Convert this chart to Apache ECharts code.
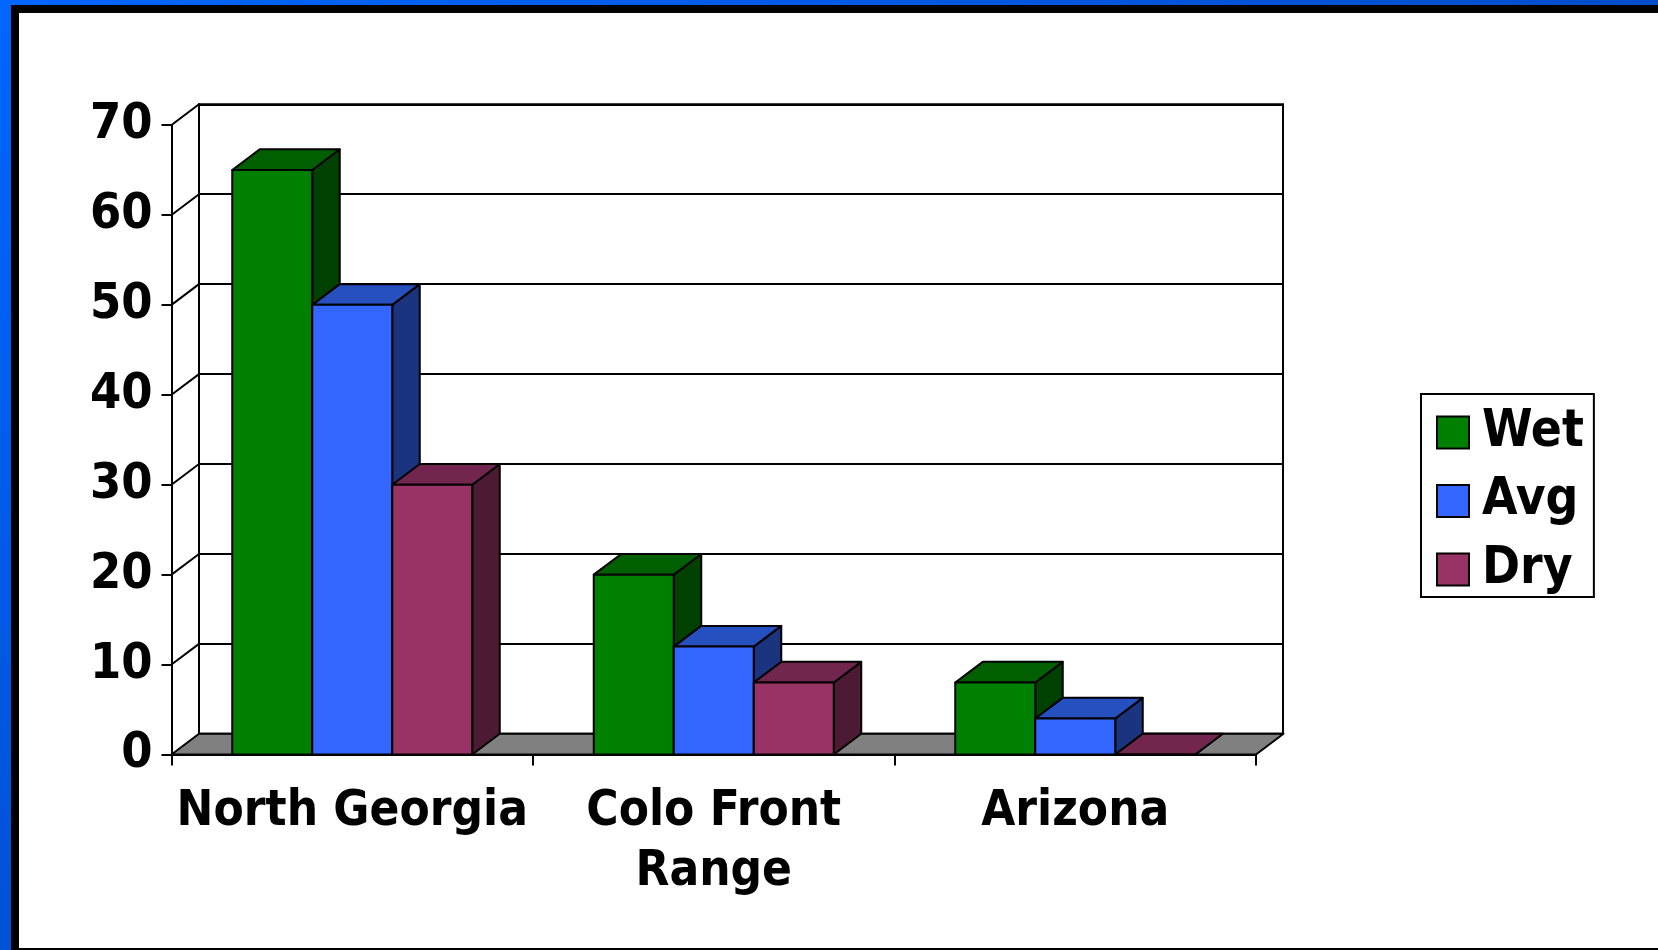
<!DOCTYPE html>
<html>
<head>
<meta charset="utf-8">
<script src="https://cdn.jsdelivr.net/npm/echarts@6/dist/echarts.min.js"></script>
<style>
  html, body { margin: 0; padding: 0; background: #fff; width: 1658px; height: 950px; overflow: hidden; }
  #chart { position: absolute; left: 0; top: 0; width: 1658px; height: 950px; }
  .b { position: absolute; z-index: 5; }
  #blueTop { left: 0; top: 0; width: 1658px; height: 5px; background: linear-gradient(to right, #0066ff, #004dcc); }
  #blueLeft { left: 0; top: 0; width: 11px; height: 950px; background: linear-gradient(to bottom, #0066ff, #0052d6); }
  #blackTop { left: 11px; top: 5px; width: 1647px; height: 8px; background: #000; }
  #blackLeft { left: 11px; top: 5px; width: 8px; height: 945px; background: #000; }
  #blackBottom { left: 11px; top: 948px; width: 1647px; height: 2px; background: #000; }
</style>
</head>
<body>
<div id="chart"></div>
<div class="b" id="blueTop"></div>
<div class="b" id="blueLeft"></div>
<div class="b" id="blackTop"></div>
<div class="b" id="blackLeft"></div>
<div class="b" id="blackBottom"></div>
<script>
const categories = ['North Georgia', 'Colo Front\nRange', 'Arizona'];
const seriesNames = ['Wet', 'Avg', 'Dry'];
const wetValues = [65, 20, 8];
const avgValues = [50, 12, 4];
const dryValues = [30, 8, 0];
const yTickValues = [0, 10, 20, 30, 40, 50, 60, 70];

const FONT = "'DejaVu Sans Condensed', 'DejaVu Sans', sans-serif";
const DX = 27.5, DY = 20.7;       // 3D depth offset (px)
const BAR_FRAC = 0.2213;           // bar width as fraction of category width
const faces = [
  { front: '#008000', top: '#005f00', side: '#004000' },
  { front: '#3366ff', top: '#264fc0', side: '#1a3480' },
  { front: '#993366', top: '#73264d', side: '#4d1a33' }
];
const stroke = { stroke: '#000', lineWidth: 2, lineJoin: 'round' };

function barRenderer(k) {
  return function (params, api) {
    const i = api.value(0), v = api.value(1);
    const p = api.coord([i, v]);
    const b = api.coord([i, 0]);
    const catW = api.size([1, 0])[0];
    const bw = catW * BAR_FRAC;
    const left = p[0] - 1.5 * bw + k * bw;
    const right = left + bw;
    const c = faces[k];
    return {
      type: 'group',
      children: [
        { type: 'polygon', shape: { points: [[right, p[1]], [right + DX, p[1] - DY], [right + DX, b[1] - DY], [right, b[1]]] },
          style: Object.assign({ fill: c.side }, stroke) },
        { type: 'polygon', shape: { points: [[left, p[1]], [right, p[1]], [right + DX, p[1] - DY], [left + DX, p[1] - DY]] },
          style: Object.assign({ fill: c.top }, stroke) },
        { type: 'rect', shape: { x: left, y: p[1], width: bw, height: b[1] - p[1] },
          style: Object.assign({ fill: c.front }, stroke) }
      ]
    };
  };
}

function frameRenderer(params, api) {
  const v = api.value(0);
  const cs = params.coordSys;
  const y = api.coord([0, v])[1];
  const x0 = cs.x;
  if (v === 0) {
    const x1 = cs.x + cs.width;
    return {
      type: 'polygon',
      shape: { points: [[x0, y], [x1, y], [x1 + DX, y - DY], [x0 + DX, y - DY]] },
      style: Object.assign({ fill: '#808080' }, stroke)
    };
  }
  return {
    type: 'line',
    shape: { x1: x0, y1: y, x2: x0 + DX, y2: y - DY },
    style: { stroke: '#000', lineWidth: 2 }
  };
}

const valueSets = [wetValues, avgValues, dryValues];
const barSeries = seriesNames.map((name, k) => ({
  name: name,
  type: 'custom',
  xAxisIndex: 0,
  yAxisIndex: 0,
  renderItem: barRenderer(k),
  itemStyle: { color: faces[k].front, borderColor: '#000', borderWidth: 2 },
  encode: { x: 0, y: 1 },
  data: valueSets[k].map((v, i) => [i, v]),
  z: 3
}));

const chart = echarts.init(document.getElementById('chart'), null, { renderer: 'canvas' });
chart.setOption({
  animation: false,
  backgroundColor: 'transparent',
  grid: [
    { left: 171.5, right: 402, top: 125, bottom: 195.5 },
    { left: 199, right: 375, top: 104.3, bottom: 216.2, show: true, backgroundColor: '#fff', borderColor: '#000', borderWidth: 2 }
  ],
  xAxis: [
    {
      gridIndex: 0, type: 'category', data: categories, boundaryGap: true,
      axisLine: { show: true, lineStyle: { color: '#000', width: 2 } },
      axisTick: { show: true, length: 11, inside: false, lineStyle: { color: '#000', width: 2 } },
      axisLabel: { interval: 0, margin: 28, color: '#000', fontSize: 49, fontWeight: 'bold', fontFamily: FONT, lineHeight: 60 },
      splitLine: { show: false }
    },
    { gridIndex: 1, type: 'category', data: categories, show: false }
  ],
  yAxis: [
    {
      gridIndex: 0, type: 'value', min: 0, max: 70, interval: 10,
      axisLine: { show: true, lineStyle: { color: '#000', width: 2 } },
      axisTick: { show: true, length: 10, inside: false, lineStyle: { color: '#000', width: 2 } },
      axisLabel: { margin: 19, color: '#000', fontSize: 50, fontWeight: 'bold', fontFamily: FONT },
      splitLine: { show: false }
    },
    {
      gridIndex: 1, type: 'value', min: 0, max: 70, interval: 10,
      axisLine: { show: true, lineStyle: { color: '#000', width: 2 } },
      axisTick: { show: false }, axisLabel: { show: false },
      splitLine: { show: true, lineStyle: { color: '#000', width: 2 } }
    }
  ],
  legend: {
    data: seriesNames,
    orient: 'vertical',
    left: 1421, top: 394,
    padding: [13, 10, 2, 15],
    itemWidth: 32, itemHeight: 32, itemGap: 17.5,
    icon: 'rect',
    borderColor: '#000', borderWidth: 2, backgroundColor: '#fff',
    textStyle: { color: '#000', fontSize: 51, fontWeight: 'bold', fontFamily: FONT, padding: [0, 0, 0, 8] },
    itemStyle: { borderColor: '#000', borderWidth: 2 }
  },
  series: [
    {
      name: 'frame', type: 'custom', xAxisIndex: 0, yAxisIndex: 0,
      renderItem: frameRenderer, data: yTickValues.map(v => [v]), encode: { y: 0 }, z: 2, silent: true
    }
  ].concat(barSeries)
});
</script>
</body>
</html>
